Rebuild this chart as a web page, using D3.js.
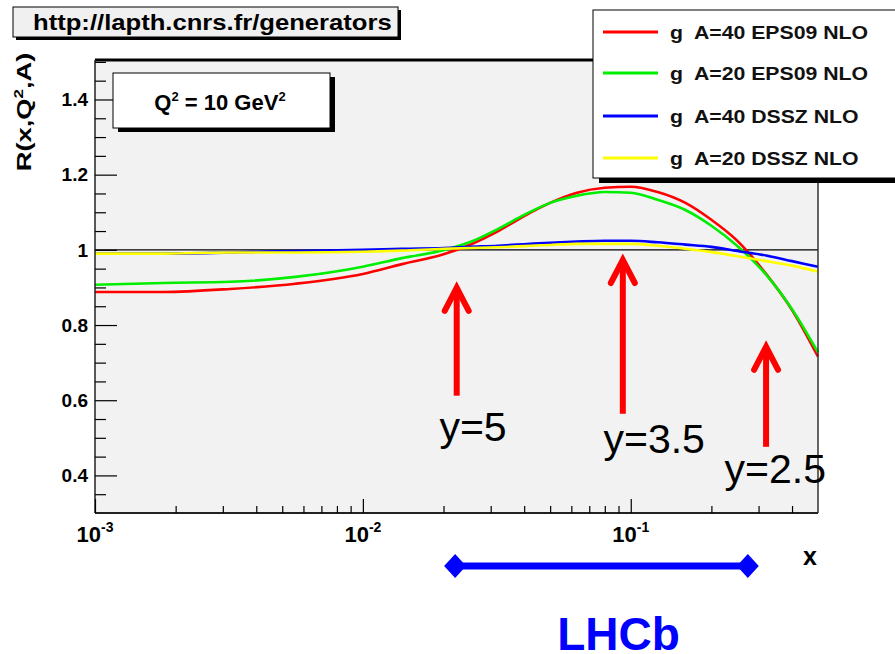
<!DOCTYPE html>
<html><head><meta charset="utf-8">
<script src="https://cdn.jsdelivr.net/npm/d3@7"></script>
<style>
html,body{margin:0;padding:0;background:#fff;overflow:hidden}
svg{display:block;font-family:"Liberation Sans",Arial,Helvetica,sans-serif}
</style></head><body>
<svg id="c" width="895" height="654"></svg>
<script>
// ---------- data ----------
const xValues   = [0.001,0.0018,0.0032,0.0056,0.01,0.014,0.02,0.025,0.032,0.04,0.05,0.063,0.08,0.1,0.126,0.16,0.2,0.25,0.32,0.4,0.5];
const gA40EPS09 = [0.888,0.888,0.896,0.910,0.936,0.962,0.988,1.013,1.050,1.090,1.125,1.152,1.165,1.168,1.154,1.125,1.080,1.024,0.936,0.840,0.716];
const gA20EPS09 = [0.907,0.912,0.915,0.928,0.955,0.978,0.999,1.020,1.056,1.093,1.125,1.144,1.154,1.152,1.133,1.106,1.064,1.010,0.934,0.842,0.727];
const gA40DSSZ  = [0.990,0.990,0.993,0.997,1.000,1.003,1.005,1.008,1.011,1.015,1.019,1.022,1.024,1.024,1.020,1.014,1.008,0.997,0.985,0.970,0.955];
const gA20DSSZ  = [0.990,0.990,0.993,0.993,0.995,0.998,1.003,1.005,1.007,1.010,1.013,1.016,1.016,1.016,1.011,1.003,0.994,0.983,0.970,0.958,0.942];
const seriesNames  = ["g  A=40 EPS09 NLO","g  A=20 EPS09 NLO","g  A=40 DSSZ NLO","g  A=20 DSSZ NLO"];
const seriesValues = [gA40EPS09, gA20EPS09, gA40DSSZ, gA20DSSZ];
const seriesColors = ["#ff0000","#00ee00","#0000ff","#ffff00"];
const referenceLevel = 1;
const yMajorTicks = [0.4,0.6,0.8,1,1.2,1.4];
const yTickLabels = ["0.4","0.6","0.8","1","1.2","1.4"];
const xMajorTicks = [0.001,0.01,0.1];
const xTickExponents = ["-3","-2","-1"];
const arrowX     = [0.0224,0.0934,0.32];
const arrowTip   = [0.899,0.973,0.742];
const arrowBase  = [0.612,0.564,0.476];
const arrowLabels= ["y=5","y=3.5","y=2.5"];
const labelX     = [0.0193,0.0791,0.224];
const labelY     = [0.492,0.460,0.380];
const lhcbRange  = [0.0221,0.2735];
const titleText  = "http://lapth.cnrs.fr/generators";

// ---------- layout ----------
const L=95, R=818, T=60, B=513;
const svg = d3.select("#c");
const x = d3.scaleLog().domain([0.001,0.5]).range([L,R]);
const y = d3.scaleLinear().domain([0.3,1.505]).range([B,T]);

// frame fill
svg.append("rect").attr("x",L).attr("y",T).attr("width",R-L).attr("height",B-T).attr("fill","#f2f2f2");

// reference line at 1
svg.append("line").attr("x1",L).attr("x2",R).attr("y1",y(referenceLevel)).attr("y2",y(referenceLevel))
  .attr("stroke","#000").attr("stroke-width",1.2);

// curves
const line = d3.line().x((d,i)=>x(xValues[i])).y(d=>y(d)).curve(d3.curveMonotoneX);
seriesValues.forEach((vals,k)=>{
  svg.append("path").attr("d",line(vals)).attr("fill","none")
    .attr("stroke",seriesColors[k]).attr("stroke-width",2.6);
});

// frame border
svg.append("line").attr("x1",L).attr("x2",R).attr("y1",T).attr("y2",T).attr("stroke","#000").attr("stroke-width",3);
svg.append("line").attr("x1",L).attr("x2",L).attr("y1",T).attr("y2",B).attr("stroke","#222").attr("stroke-width",1.5);
svg.append("line").attr("x1",R).attr("x2",R).attr("y1",T).attr("y2",B).attr("stroke","#333").attr("stroke-width",1.5);
svg.append("line").attr("x1",L).attr("x2",R).attr("y1",B).attr("y2",B).attr("stroke","#222").attr("stroke-width",2);

// y axis ticks
const yMinor = d3.range(0.35,1.5001,0.05).map(v=>+v.toFixed(2)).filter(v=>!yMajorTicks.some(m=>Math.abs(m-v)<1e-6));
const yAxMinor = svg.append("g").attr("transform",`translate(${L},0)`)
  .call(d3.axisLeft(y).tickValues(yMinor).tickSize(-11).tickFormat(""));
const yAxMajor = svg.append("g").attr("transform",`translate(${L},0)`)
  .call(d3.axisLeft(y).tickValues(yMajorTicks).tickSize(-22).tickFormat(""));
[yAxMinor,yAxMajor].forEach(g=>{g.select(".domain").remove(); g.selectAll("line").attr("stroke","#000").attr("stroke-width",1.2);});
yMajorTicks.forEach((v,i)=>{
  svg.append("text").attr("x",88).attr("y",y(v)).attr("dy","0.36em").attr("text-anchor","end")
    .attr("font-size",19).attr("font-weight","bold").attr("fill","#000").text(yTickLabels[i]);
});

// x axis ticks
const xMinor = [];
[0.001,0.01,0.1].forEach(d=>{for(let m=2;m<=9;m++){const v=m*d; if(v<0.5-1e-9) xMinor.push(v);}});
const xAxMinor = svg.append("g").attr("transform",`translate(0,${B})`)
  .call(d3.axisBottom(x).tickValues(xMinor).tickSize(-7).tickFormat(""));
const xAxMajor = svg.append("g").attr("transform",`translate(0,${B})`)
  .call(d3.axisBottom(x).tickValues(xMajorTicks).tickSize(-14).tickFormat(""));
[xAxMinor,xAxMajor].forEach(g=>{g.select(".domain").remove(); g.selectAll("line").attr("stroke","#000").attr("stroke-width",1.2);});
xMajorTicks.forEach((v,i)=>{
  const t = svg.append("text").attr("x",x(v)).attr("y",542).attr("text-anchor","middle")
    .attr("font-size",22).attr("font-weight","bold").attr("fill","#000");
  t.append("tspan").text("10");
  t.append("tspan").attr("dy",-10).attr("font-size",14).text(xTickExponents[i]);
});

// axis titles
svg.append("text").attr("x",803).attr("y",565).attr("font-size",25).attr("font-weight","bold").text("x");
const yt = svg.append("text").attr("transform","translate(31,112) rotate(-90) scale(1.3,1)")
  .attr("text-anchor","middle").attr("font-size",21).attr("font-weight","bold");
yt.append("tspan").text("R(x,Q");
yt.append("tspan").attr("dy",-8).attr("font-size",13).text("2");
yt.append("tspan").attr("dy",8).text(",A)");

// Q^2 box
svg.append("rect").attr("x",118).attr("y",77).attr("width",217).attr("height",55).attr("fill","#000");
svg.append("rect").attr("x",113).attr("y",73).attr("width",217).attr("height",55).attr("fill","#fff").attr("stroke","#000").attr("stroke-width",1);
const qt = svg.append("text").attr("x",220).attr("y",110).attr("text-anchor","middle").attr("font-size",22).attr("font-weight","bold");
qt.append("tspan").text("Q");
qt.append("tspan").attr("dy",-9).attr("font-size",13).text("2");
qt.append("tspan").attr("dy",9).text(" = 10 GeV");
qt.append("tspan").attr("dy",-9).attr("font-size",13).text("2");

// arrows
arrowX.forEach((ax,i)=>{
  const px=x(ax), ty=y(arrowTip[i]), by=y(arrowBase[i]);
  svg.append("line").attr("x1",px).attr("x2",px).attr("y1",ty+3).attr("y2",by)
    .attr("stroke","#ff0000").attr("stroke-width",6);
  svg.append("path").attr("d",`M${px-12},${ty+23}L${px},${ty}L${px+12},${ty+23}`)
    .attr("fill","none").attr("stroke","#ff0000").attr("stroke-width",6)
    .attr("stroke-linejoin","miter").attr("stroke-linecap","round");
  svg.append("text").attr("x",x(labelX[i])).attr("y",y(labelY[i])).attr("font-size",41)
    .attr("fill","#000").text(arrowLabels[i]);
});

// LHCb range bar
const bx1=x(lhcbRange[0]), bx2=x(lhcbRange[1]), byy=566;
svg.append("line").attr("x1",bx1).attr("x2",bx2).attr("y1",byy).attr("y2",byy).attr("stroke","#0000ff").attr("stroke-width",7);
[bx1,bx2].forEach(px=>{
  svg.append("path").attr("d",`M${px-11},${byy}L${px},${byy-12}L${px+11},${byy}L${px},${byy+12}Z`).attr("fill","#0000ff");
});
svg.append("text").attr("x",(bx1+bx2)/2+17).attr("y",650).attr("text-anchor","middle")
  .attr("font-size",46).attr("font-weight","bold").attr("fill","#0000ff").text("LHCb");

// legend
svg.append("rect").attr("x",599).attr("y",15).attr("width",320).attr("height",168).attr("fill","#000");
svg.append("rect").attr("x",593).attr("y",10).attr("width",320).attr("height",168).attr("fill","#fff").attr("stroke","#000").attr("stroke-width",1);
const legY=[32,73,116,158];
seriesNames.forEach((n,k)=>{
  svg.append("line").attr("x1",603).attr("x2",658).attr("y1",legY[k]).attr("y2",legY[k])
    .attr("stroke",seriesColors[k]).attr("stroke-width",3);
  svg.append("text").attr("transform",`translate(670,${legY[k]+6.5}) scale(1.18,1)`)
    .attr("font-size",18).attr("font-weight","bold").attr("fill","#111")
    .style("white-space","pre").attr("xml:space","preserve").text(n);
});

// title box
svg.append("rect").attr("x",16).attr("y",10).attr("width",385).attr("height",30).attr("fill","#000");
svg.append("rect").attr("x",13).attr("y",7).attr("width",385).attr("height",30).attr("fill","#f0f0f0").attr("stroke","#000").attr("stroke-width",1);
svg.append("text").attr("transform","translate(33,30) scale(1.165,1)").attr("font-size",22).attr("font-weight","bold")
  .attr("fill","#000").text(titleText);
</script>
</body></html>
